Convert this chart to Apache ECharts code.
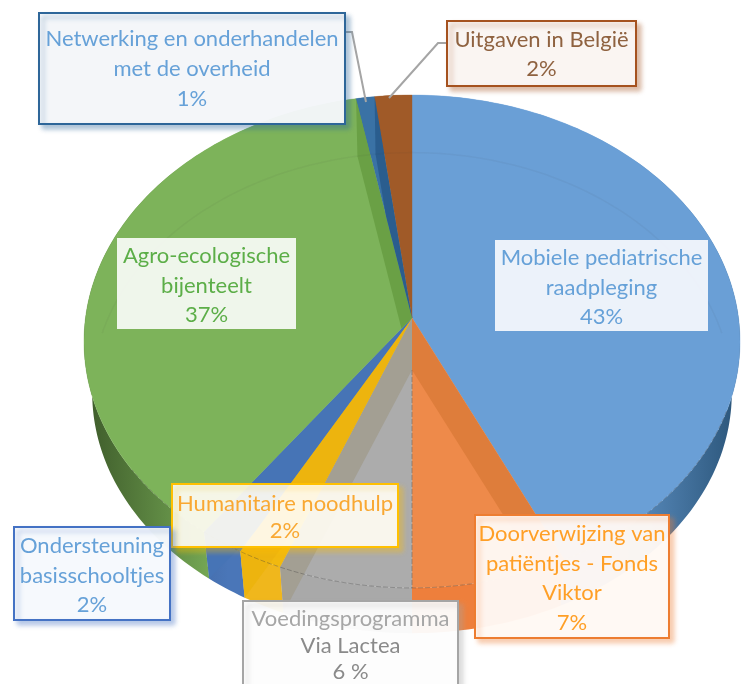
<!DOCTYPE html>
<html>
<head>
<meta charset="utf-8">
<style>
  html, body { margin: 0; padding: 0; background: #fff; }
  #main { width: 747px; height: 684px; }
</style>
<script src="https://cdn.jsdelivr.net/npm/echarts@6/dist/echarts.min.js"></script>
</head>
<body>
<div id="main"></div>
<script>
// data, clockwise from 12 o'clock
const categories = [
  'Mobiele pediatrische raadpleging',
  'Doorverwijzing van patiëntjes - Fonds Viktor',
  'Voedingsprogramma Via Lactea',
  'Humanitaire noodhulp',
  'Ondersteuning basisschooltjes',
  'Agro-ecologische bijenteelt',
  'Netwerking en onderhandelen met de overheid',
  'Uitgaven in België'
]
const values = [43, 7, 6, 2, 2, 37, 1, 2]
const labelLines = [
  ['Mobiele pediatrische', 'raadpleging', '43%'],
  ['Doorverwijzing van', 'patiëntjes - Fonds', 'Viktor', '7%'],
  ['Voedingsprogramma', 'Via Lactea', '6 %'],
  ['Humanitaire noodhulp', '2%'],
  ['Ondersteuning', 'basisschooltjes', '2%'],
  ['Agro-ecologische', 'bijenteelt', '37%'],
  ['Netwerking en onderhandelen', 'met de overheid', '1%'],
  ['Uitgaven in België', '2%']
]

// styles
const topColors = ['#6a9fd6', '#ee8a4a', '#acacac', '#f1b90f', '#4a78ba', '#7db35a', '#3a72a5', '#a05a28']
const faceColors = ['#5d91c8', '#de7d3b', '#a39f93', '#edb40e', '#4674b6', '#6aa045', '#2a5d8e', '#93511f']
const wallColors = ['#6a9fd6', '#ee7f3c', '#a9a9a9', '#f0b71c', '#4a76b8', '#7db35a', '#2f6699', '#93511f']
const edgeColors = ['#2a5478', '#a05a28', '#777777', '#a07a10', '#2f4f80', '#3d5a2a', '#1e4468', '#5e3415']

// label boxes [x, y, w, h, first line centre y, line height]
const boxLayout = [
  [495, 240, 213, 91, 258, 29.5],
  [475, 515, 194, 123, 534, 29.5],
  [243, 601, 215, 100, 619, 26.5],
  [172, 484, 226, 63, 504, 27],
  [14, 527, 156, 93, 546, 29.5],
  [117, 238, 179, 91, 256, 29.5],
  [39, 13, 306, 111, 39, 30],
  [447, 21, 189, 65, 40, 29]
]
const boxBorders = ['', '#ed7d31', '#a5a5a5', '#ffc000', '#4472c4', '', '#2e6699', '#a5521f']
const boxFills = ['rgba(247,249,253,0.92)', 'rgba(255,251,248,0.95)', 'rgba(255,255,255,0.93)', 'rgba(255,255,255,0.88)',
  'rgba(248,250,253,0.97)', 'rgba(255,255,255,0.88)', 'rgba(248,249,251,0.95)', 'rgba(251,247,245,0.97)']
const textColors = ['#66a1d8', '#ff9f26', '#8a8a8a', '#f9a832', '#66a1d8', '#5cae48', '#66a1d8', '#8f6240']
const leaderLines = [
  null, null, null, null, null, null,
  [[345, 32], [352, 32], [366, 102]],
  [[447, 43], [438, 43], [389, 98]]
]

// projected pie geometry
const cx = 412, cy = 318
const rx = 326.5, ry = 244.2, persp = 0.0953
const depth = 52, bottomScale = 0.975

const total = values.reduce((a, b) => a + b, 0)
const cumul = [0]
values.forEach((v, i) => cumul.push(cumul[i] + v))

const toAngle = function (v) {
  return echarts.number.linearMap(v, [0, total], [0, Math.PI * 2])
}

const topPoint = function (a) {
  const u = Math.sin(a), v = Math.cos(a), d = 1 + persp * v
  return [cx + rx * u / d, cy - ry * v / d]
}

const lowPoint = function (p) {
  return [cx + (p[0] - cx) * bottomScale, cy + depth + (p[1] - cy) * bottomScale]
}

const rimPoints = function (a0, a1) {
  const n = Math.max(2, Math.ceil((a1 - a0) / 0.02)), pts = []
  for (let k = 0; k <= n; k++) {
    pts.push(topPoint(a0 + (a1 - a0) * k / n))
  }
  return pts
}

const sliceRange = function (i) {
  return [toAngle(cumul[i]), toAngle(cumul[i + 1])]
}

//keep the part of a polygon on the inner side of the line centre -> p
const clipToSide = function (pts, p) {
  const side = q => (p[0] - cx) * (q[1] - cy) - (p[1] - cy) * (q[0] - cx)
  const out = []
  pts.forEach((q, k) => {
    const r = pts[(k + 1) % pts.length], sq = side(q), sr = side(r)
    if (sq >= 0) {
      out.push(q)
    }
    if ((sq > 0 && sr < 0) || (sq < 0 && sr > 0)) {
      const t = sq / (sq - sr)
      out.push([q[0] + (r[0] - q[0]) * t, q[1] + (r[1] - q[1]) * t])
    }
  })
  return out
}

// outer wall
const renderWall = function (params, api) {
  const i = api.value(0), [a0, a1] = sliceRange(i)
  const rim = rimPoints(a0, a1)
  const fill = {
    type: 'linear', x: 84, y: 0, x2: 740, y2: 0, global: true,
    colorStops: [
      {offset: 0, color: edgeColors[i]},
      {offset: 0.22, color: wallColors[i]},
      {offset: 0.78, color: wallColors[i]},
      {offset: 1, color: edgeColors[i]}
    ]
  }
  return {
    type: 'polygon',
    shape: {points: rim.concat(rim.map(lowPoint).reverse())},
    style: {fill: fill}
  }
}

// top surface
const renderTop = function (params, api) {
  const i = api.value(0), [a0, a1] = sliceRange(i)
  return {
    type: 'polygon',
    shape: {points: [[cx, cy]].concat(rimPoints(a0, a1))},
    style: {fill: topColors[i], stroke: topColors[i], lineWidth: 0.4}
  }
}

// inner cut faces seen through the top
const renderFace = function (params, api) {
  const i = api.value(0), [a0, a1] = sliceRange(i)
  let points
  if (Math.sin(a0) > 0.01) {
    const p = topPoint(a0)
    points = [[cx, cy], p, lowPoint(p), [cx, cy + depth]]
  } else if (Math.sin(a1) < -0.01) {
    const p = topPoint(a1)
    points = clipToSide([[cx, cy], p, lowPoint(p), [cx, cy + depth]], topPoint(a0))
  } else {
    return
  }
  return {
    type: 'polygon',
    shape: {points: points},
    style: {fill: faceColors[i]}
  }
}

const renderLabel = function (params, api) {
  const i = api.value(0), [x, y, w, h, y0, lh] = boxLayout[i]
  const children = []
  if (leaderLines[i]) {
    children.push({
      type: 'polyline',
      shape: {points: leaderLines[i]},
      style: {stroke: '#a5a5a5', lineWidth: 2, fill: null}
    })
  }
  children.push({
    type: 'rect',
    shape: {x: x, y: y, width: w, height: h},
    style: {
      fill: boxFills[i],
      stroke: boxBorders[i] || null,
      lineWidth: boxBorders[i] ? 2 : 0,
      shadowBlur: boxBorders[i] ? 5 : 0,
      shadowOffsetX: 4,
      shadowOffsetY: 4,
      shadowColor: boxBorders[i] ? boxBorders[i] + '66' : 'transparent'
    }
  })
  labelLines[i].forEach((line, k) => {
    children.push({
      type: 'text',
      style: {
        x: x + w / 2,
        y: y0 + k * lh,
        text: line,
        fill: i === 2 && k === 0 ? '#a6a6a6' : textColors[i],
        font: '400 22px Lato',
        align: 'center',
        verticalAlign: 'middle'
      }
    })
  })
  return {type: 'group', children: children}
}

// faint construction lines of the 3D shape
const renderRims = function () {
  const front = rimPoints(Math.PI * 0.62, Math.PI * 1.3)
  const back = rimPoints(-Math.PI * 0.45, Math.PI * 0.45).map(lowPoint)
  return {
    type: 'group',
    children: [
      {type: 'polyline', shape: {points: back}, style: {stroke: 'rgba(60,60,60,0.05)', lineWidth: 1.5, fill: null}},
      {type: 'polyline', shape: {points: front}, style: {stroke: 'rgba(60,60,60,0.35)', lineWidth: 1, lineDash: [5, 2], fill: null}},
      {
        type: 'line',
        shape: {x1: cx, y1: cy + depth, x2: cx, y2: topPoint(Math.PI)[1]},
        style: {stroke: 'rgba(90,70,60,0.4)', lineWidth: 1, lineDash: [5, 2]}
      }
    ]
  }
}

const data = values.map((v, i) => ({name: categories[i], value: [i, v]}))
const custom = function (renderItem, z, d) {
  return {
    type: 'custom',
    coordinateSystem: 'none',
    renderItem: renderItem,
    data: d || data,
    z: z,
    silent: true,
    animation: false
  }
}

const chart = echarts.init(document.getElementById('main'))
chart.setOption({
  backgroundColor: '#ffffff',
  animation: false,
  series: [
    custom(renderWall, 1),
    custom(renderTop, 2),
    custom(renderFace, 3),
    custom(renderRims, 4, [data[0]]),
    custom(renderLabel, 5)
  ]
})
</script>
</body>
</html>
